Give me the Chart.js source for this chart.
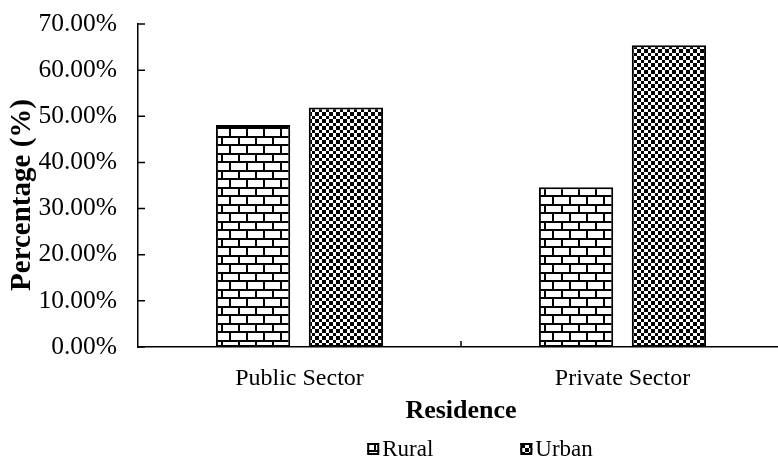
<!DOCTYPE html>
<html>
<head>
<meta charset="utf-8">
<script src="https://cdn.jsdelivr.net/npm/chart.js@4.4.1/dist/chart.umd.min.js"></script>
<style>
  html, body { margin: 0; padding: 0; background: #fff; overflow: hidden; }
  #wrap { width: 784px; height: 459px; }
</style>
</head>
<body>
<div id="wrap"><canvas id="chart" width="784" height="459"></canvas></div>
<script>
const categories = ['Public Sector', 'Private Sector'];
const seriesNames = ['Rural', 'Urban'];
const ruralValues = [48.1, 34.6];
const urbanValues = [51.9, 65.4];
const yTicks = [0, 10, 20, 30, 40, 50, 60, 70];
const yTitle = 'Percentage (%)';

const FONT = "'Liberation Serif', 'Times New Roman', serif";
const canvas = document.getElementById('chart');
const ctx = canvas.getContext('2d');

// brick fill: white bricks, black mortar, every other row shifted half a brick
function brickPattern() {
  const c = document.createElement('canvas');
  c.width = 17; c.height = 17;
  const g = c.getContext('2d');
  g.fillStyle = '#fff'; g.fillRect(0, 0, 17, 17);
  g.fillStyle = '#000';
  g.fillRect(0, 0, 17, 2);
  g.fillRect(0, 8, 17, 2);
  g.fillRect(0, 0, 2, 8);
  g.fillRect(8, 8, 2, 9);
  return ctx.createPattern(c, 'repeat');
}

// small black/white checkerboard
function checkerPattern() {
  const c = document.createElement('canvas');
  c.width = 7; c.height = 7;
  const g = c.getContext('2d');
  g.fillStyle = '#fff'; g.fillRect(0, 0, 7, 7);
  g.fillStyle = '#000';
  g.fillRect(0, 0, 4, 4);
  g.fillRect(4, 4, 3, 3);
  return ctx.createPattern(c, 'repeat');
}

const fills = [brickPattern(), checkerPattern()];

// inward tick marks, the rotated y title and the legend row
const axisMarks = {
  id: 'axisMarks',
  afterDraw(chart) {
    const { ctx, scales: { x, y }, chartArea } = chart;
    ctx.save();
    ctx.strokeStyle = '#000';
    ctx.lineWidth = 1.5;
    ctx.beginPath();
    yTicks.forEach(v => {
      const py = y.getPixelForValue(v);
      ctx.moveTo(chartArea.left, py);
      ctx.lineTo(chartArea.left + 7, py);
    });
    const mid = (x.getPixelForValue(0) + x.getPixelForValue(1)) / 2;
    ctx.moveTo(mid, chartArea.bottom);
    ctx.lineTo(mid, chartArea.bottom - 6);
    ctx.stroke();

    // y axis title
    ctx.save();
    ctx.translate(23, 195);
    ctx.rotate(-Math.PI / 2);
    ctx.font = 'bold 29px ' + FONT;
    ctx.textAlign = 'center';
    ctx.textBaseline = 'middle';
    ctx.fillStyle = '#000';
    ctx.fillText(yTitle, 0, 0);
    ctx.restore();

    // legend
    ctx.font = '23px ' + FONT;
    ctx.textBaseline = 'middle';
    ctx.textAlign = 'left';
    const box = 12, gap = 3, spacing = 87, ly = 449;
    const widths = seriesNames.map(n => ctx.measureText(n).width);
    const total = widths.reduce((a, w) => a + box + gap + w, 0) + spacing * (seriesNames.length - 1);
    let lx = 480 - total / 2;
    seriesNames.forEach((name, i) => {
      ctx.fillStyle = fills[i];
      ctx.fillRect(lx, ly - box / 2, box, box);
      ctx.lineWidth = 2;
      ctx.strokeStyle = '#000';
      ctx.strokeRect(lx + 1, ly - box / 2 + 1, box - 2, box - 2);
      ctx.fillStyle = '#000';
      ctx.fillText(name, lx + box + gap, ly + 1);
      lx += box + gap + widths[i] + spacing;
    });
    ctx.restore();
  }
};

new Chart(canvas, {
  type: 'bar',
  data: {
    labels: categories,
    datasets: [
      { label: seriesNames[0], data: ruralValues, backgroundColor: fills[0], borderColor: '#000', borderWidth: 2, borderSkipped: false },
      { label: seriesNames[1], data: urbanValues, backgroundColor: fills[1], borderColor: '#000', borderWidth: 2, borderSkipped: false }
    ]
  },
  options: {
    responsive: false,
    animation: false,
    devicePixelRatio: 1,
    categoryPercentage: 0.575,
    barPercentage: 0.8,
    layout: { padding: { top: 24, right: 0, bottom: 32, left: 0 } },
    plugins: { legend: { display: false }, tooltip: { enabled: false } },
    scales: {
      x: {
        offset: true,
        grid: { display: false, drawTicks: false },
        border: { color: '#000', width: 1.5 },
        ticks: { color: '#000', font: { family: FONT, size: 24 }, padding: 17 },
        title: { display: true, text: 'Residence', color: '#000', font: { family: FONT, size: 26, weight: 'bold' }, padding: { top: 3, bottom: 0 } },
        afterFit: s => { s.height = 80; }
      },
      y: {
        min: 0, max: 70,
        grid: { display: false, drawTicks: false },
        border: { color: '#000', width: 1.5 },
        ticks: { stepSize: 10, color: '#000', font: { family: FONT, size: 25.5 }, padding: 21, callback: v => v.toFixed(2) + '%' },
        afterFit: s => { s.width = 138; s.paddingTop = 0; s.paddingBottom = 0; }
      }
    }
  },
  plugins: [axisMarks]
});
</script>
</body>
</html>
